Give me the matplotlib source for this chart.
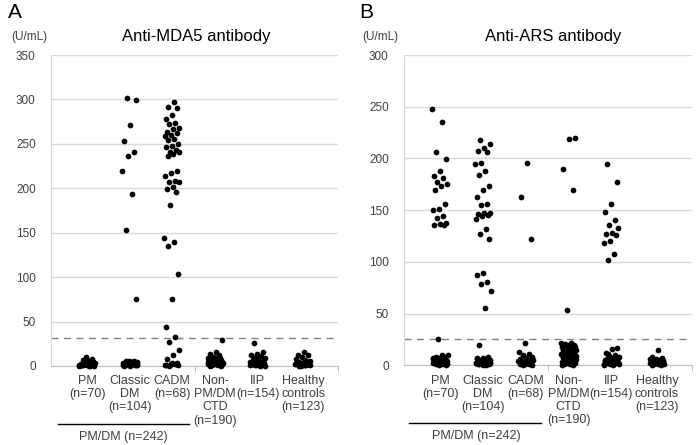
import numpy as np
import matplotlib
matplotlib.use('Agg')
import matplotlib.pyplot as plt
from matplotlib.transforms import blended_transform_factory

plt.rcParams['font.family'] = ['Liberation Sans', 'DejaVu Sans']

# categories
groups = ['PM\n(n=70)', 'Classic\nDM\n(n=104)', 'CADM\n(n=68)',
          'Non-\nPM/DM\nCTD\n(n=190)', 'IIP\n(n=154)', 'Healthy\ncontrols\n(n=123)']

# Anti-MDA5 values (U/mL)
mda5_pm = [0.5, 1.0, 1.5, 2.0, 0.8, 1.2, 2.5, 3.0, 0.3, 1.8, 2.2, 3.5, 4.0, 1.0, 0.6, 2.8, 5.0, 6.0,
           1.4, 0.9, 2.0, 3.2, 4.5, 7.0, 8.0, 10.5, 1.1, 0.4, 2.6, 3.8, 1.6, 0.7, 5.5, 2.4, 1.3, 0.2,
           3.0, 4.2, 6.5, 1.9]
mda5_classic = [302, 299, 271, 253, 241, 236, 220, 194, 153, 75,
                0.5, 1.0, 2.0, 3.0, 4.0, 5.0, 1.5, 2.5, 0.8, 3.5, 4.5, 5.5, 1.2, 2.2, 0.3, 6.0,
                3.2, 1.8, 4.8, 2.8, 0.6, 5.2, 1.4, 3.8, 2.4, 0.9]
mda5_cadm = [297, 291, 290, 282, 278, 273, 272, 268, 267, 263, 262, 260, 259, 256, 254, 250, 248,
             246, 243, 241, 241, 239, 236, 220, 217, 214, 208, 207, 207, 201, 199, 196, 181, 144,
             140, 135, 103, 75, 44, 33, 27, 18, 12, 7.5,
             3.0, 2.0, 1.0, 2.5, 0.5, 1.5, 3.5, 0.8, 2.2, 1.2]
mda5_ctd = [29.5, 15.7, 13.5, 12.0, 10.0, 9.0, 8.0, 7.5, 7.0, 6.5, 6.0, 5.5, 5.0, 4.5, 4.0, 3.5,
            3.0, 2.5, 2.0, 1.5, 1.0, 0.5, 8.5, 6.8, 5.2, 4.2, 3.2, 2.2, 1.2, 0.8, 7.2, 5.8, 4.8,
            3.8, 2.8, 1.8, 0.3, 9.5, 6.2, 4.4, 2.6, 1.4]
mda5_iip = [25.5, 16.0, 13.5, 12.0, 11.0, 9.5, 8.5, 7.0, 6.0, 5.5, 5.0, 4.5, 4.0, 3.5, 3.0, 2.5,
            2.0, 1.5, 1.0, 0.5, 8.0, 6.5, 4.8, 3.8, 2.8, 1.8, 0.8, 7.5, 5.2, 4.2, 3.2, 2.2, 1.2,
            0.3, 9.0, 6.2, 4.4, 2.6, 1.4]
mda5_hc = [16.0, 12.5, 12.0, 10.0, 8.0, 6.5, 5.0, 4.0, 3.5, 3.0, 2.5, 2.0, 1.5, 1.0, 0.5, 4.5,
           3.2, 2.2, 1.2, 0.8, 5.5, 3.8, 2.8, 1.8, 0.3, 2.6, 1.4, 0.6]

# Anti-ARS values (U/mL)
ars_pm = [248, 235, 206, 199, 188, 183, 181, 177, 175, 173, 169, 156, 151, 150, 144, 142, 138,
          137, 136, 136, 25,
          10, 9.5, 8.5, 8, 7, 6.5, 6, 5, 4.5, 4, 3.5, 3, 2.5, 2, 1.5, 1, 0.5, 5.5, 3.2, 2.2, 1.2,
          0.8, 4.2, 2.8, 1.8, 0.3, 7.5, 3.8, 2.6, 1.4]
ars_classic = [218, 214, 210, 207, 206, 196, 195, 188, 184, 173, 169, 163, 156, 155, 147, 147,
               146, 145, 144, 141, 132, 127, 122, 89, 87, 81, 79, 72, 55, 19.5,
               8, 7.5, 7, 6, 5.5, 5, 4.5, 4, 3.5, 3, 2.5, 2, 1.5, 1, 0.5, 6.5, 4.2, 3.2, 2.2,
               1.2, 0.8, 5.2, 2.8, 1.8, 0.3, 3.8, 2.6, 1.4]
ars_cadm = [196, 163, 122, 21.5, 13, 11, 10, 8.5, 7, 6, 5, 4.5, 4, 3.5, 3, 2.5, 2, 1.5, 1, 0.5,
            5.5, 3.2, 2.2, 1.2, 0.8, 4.2, 2.8, 1.8, 0.3, 6.5, 3.8, 2.6]
ars_ctd = [220, 219, 190, 169, 53, 22, 21.5, 21, 20, 19, 18, 17, 16, 15, 14, 13, 12, 11, 10,
           9.5, 9, 8.5, 8, 7.5, 7, 6.5, 6, 5.5, 5, 4.5, 4, 3.5, 3, 2.5, 2, 1.5, 1, 0.5, 12.5,
           10.5, 8.2, 6.2, 4.2, 2.2, 1.2, 0.8, 11.5, 9.2, 7.2, 5.2, 3.2, 1.8, 0.3, 13.5, 15.5,
           17.5, 19.5, 14.5]
ars_iip = [195, 177, 156, 148, 140, 136, 133, 128, 127, 126, 120, 118, 108, 102,
           17, 16, 12, 10, 9, 8, 7, 6.5, 6, 5.5, 5, 4.5, 4, 3.5, 3, 2.5, 2, 1.5, 1, 0.5, 11,
           8.5, 7.5, 4.2, 3.2, 2.2, 1.2, 0.8, 5.2, 2.8, 1.8, 0.3]
ars_hc = [14.5, 8, 7, 6.5, 6, 5, 4.5, 4, 3.5, 3, 2.5, 2, 1.5, 1, 0.5, 5.5, 3.2, 2.2, 1.2, 0.8,
          4.2, 2.8, 1.8, 0.3]

mda5 = [mda5_pm, mda5_classic, mda5_cadm, mda5_ctd, mda5_iip, mda5_hc]
ars = [ars_pm, ars_classic, ars_cadm, ars_ctd, ars_iip, ars_hc]

x_pos = [0.88, 1.92, 2.95, 4.0, 5.04, 6.15]
grey = '#404040'


def draw_panel(ax, data, ymax, cutoff, line_x):
    for i, vals in enumerate(data):
        n = len(vals)
        # deterministic spread so the dots do not sit on one line
        off = 0.19 * (((np.arange(n) * 0.618034 + 0.31 * i) % 1) * 2 - 1)
        ax.scatter(x_pos[i] + off, vals, s=17, color='black', linewidths=0,
                   zorder=3, clip_on=False)
    ax.axhline(cutoff, color='#808080', lw=1, ls=(0, (5, 4)), zorder=2)
    ax.set_xlim(0, 7)
    ax.set_ylim(0, ymax)
    ax.set_yticks(np.arange(0, ymax + 1, 50))
    ax.grid(axis='y', color='#d9d9d9', lw=1)
    ax.set_axisbelow(True)
    ax.set_xticks([3.5, 7])
    ax.set_xticklabels([])
    ax.tick_params(axis='x', length=4, color='#bfbfbf')
    ax.tick_params(axis='y', length=0, pad=11, labelsize=8.5, labelcolor=grey)
    for s in ['top', 'right']:
        ax.spines[s].set_visible(False)
    ax.spines['left'].set_color('#d9d9d9')
    ax.spines['bottom'].set_color('#bfbfbf')
    tr = blended_transform_factory(ax.transData, ax.transAxes)
    for i, g in enumerate(groups):
        ax.text(x_pos[i], -0.03, g, transform=tr, ha='center', va='top',
                fontsize=9, color=grey, linespacing=1.12)
    ax.plot(line_x, [-0.185, -0.185], color='black', lw=1, transform=tr, clip_on=False)
    ax.text(1.76, -0.228, 'PM/DM (n=242)', transform=tr, ha='center', va='center',
            fontsize=9, color=grey)


fig = plt.figure(figsize=(6.97, 4.45), dpi=100)
ax1 = fig.add_axes([51/697, 1-366/445, 287/697, 311/445])
ax2 = fig.add_axes([404/697, 1-365.3/445, 288/697, 310.3/445])

draw_panel(ax1, mda5, 350, 32, [0.17, 3.37])
draw_panel(ax2, ars, 300, 25, [0.11, 3.32])

fig.text(8/697, 1-12/445, 'A', fontsize=15, va='center', ha='left')
fig.text(359/697, 1-12/445, 'B', fontsize=15, va='center', ha='left')
fig.text(29/697, 1-37/445, '(U/mL)', fontsize=8.5, color=grey, ha='center', va='center')
fig.text(380/697, 1-37/445, '(U/mL)', fontsize=8.5, color=grey, ha='center', va='center')
fig.text(196/697, 1-37/445, 'Anti-MDA5 antibody', fontsize=12, ha='center', va='center')
fig.text(553/697, 1-37/445, 'Anti-ARS antibody', fontsize=12, ha='center', va='center')

fig.savefig('out.png', dpi=100)
